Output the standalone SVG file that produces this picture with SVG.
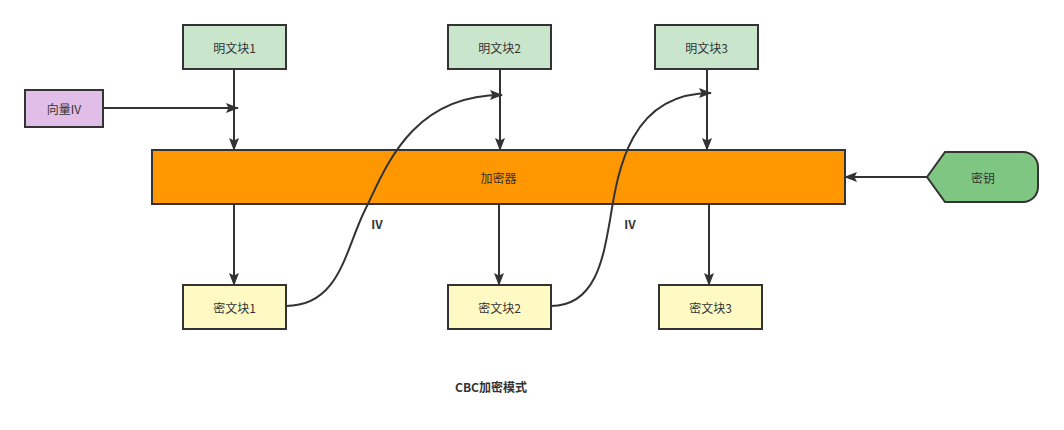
<svg xmlns="http://www.w3.org/2000/svg" width="1064" height="430" viewBox="0 0 1064 430">
<style>
.n{stroke:#333;stroke-width:2}
.t{font-family:"Noto Sans CJK SC","Microsoft YaHei",sans-serif;font-size:12px;fill:#333;text-anchor:middle;dominant-baseline:central}
.b{font-weight:bold}
.c{fill:none;stroke:#333;stroke-width:2;marker-end:url(#ah)}
</style>
<defs>
<marker id="ah" viewBox="0 0 13 10" refX="12" refY="5" markerWidth="6.5" markerHeight="5" orient="auto" markerUnits="strokeWidth">
<path d="M0 0 L13 5 L0 10 L2.5 5 Z" fill="#333"/>
</marker>
</defs>
<rect width="1064" height="430" fill="#fff"/>
<g id="p1"><rect class="n" x="183" y="25" width="103" height="44" fill="#c9e6cc"/><text class="t" x="234.5" y="47">明文块1</text></g>
<g id="p2"><rect class="n" x="448" y="25" width="103" height="44" fill="#c9e6cc"/><text class="t" x="499.5" y="47">明文块2</text></g>
<g id="p3"><rect class="n" x="655" y="25" width="103" height="44" fill="#c9e6cc"/><text class="t" x="706.5" y="47">明文块3</text></g>
<g id="iv"><rect class="n" x="25" y="90" width="78" height="37" fill="#e1bee7"/><text class="t" x="64" y="108.5">向量IV</text></g>
<g id="enc"><rect class="n" x="152" y="150" width="693" height="54" fill="#ff9800"/><text class="t" x="498.5" y="177">加密器</text></g>
<g id="key"><path class="n" d="M927 177 L945 152 L1023 152 A15 15 0 0 1 1038 167 L1038 187 A15 15 0 0 1 1023 202 L945 202 Z" fill="#7ec682"/><text class="t" x="983" y="177">密钥</text></g>
<g id="c1"><rect class="n" x="183" y="285" width="103" height="44" fill="#fff9c4"/><text class="t" x="234.5" y="307">密文块1</text></g>
<g id="c2"><rect class="n" x="448" y="285" width="103" height="44" fill="#fff9c4"/><text class="t" x="499.5" y="307">密文块2</text></g>
<g id="c3"><rect class="n" x="659" y="285" width="103" height="44" fill="#fff9c4"/><text class="t" x="710.5" y="307">密文块3</text></g>
<g id="title"><text class="t b" x="491" y="386">CBC加密模式</text></g>
<g id="connectors">
<path class="c" d="M103 108 L238 108"/>
<path class="c" d="M234 69 L234 150"/>
<path class="c" d="M500 69 L500 150"/>
<path class="c" d="M707 69 L707 150"/>
<path class="c" d="M234 204 L234 285"/>
<path class="c" d="M499 204 L499 285"/>
<path class="c" d="M709 204 L709 285"/>
<path class="c" d="M927 177 L845 177"/>
<path class="c" d="M286 306 C340 306 345 250 365 210 C385 170 410 95 502 95"/>
<path class="c" d="M551 306 C595 306 603 260 610 220 C618 170 630 93 711 93"/>
<text class="t b" x="377" y="223">IV</text>
<text class="t b" x="630" y="223">IV</text>
</g>
</svg>
